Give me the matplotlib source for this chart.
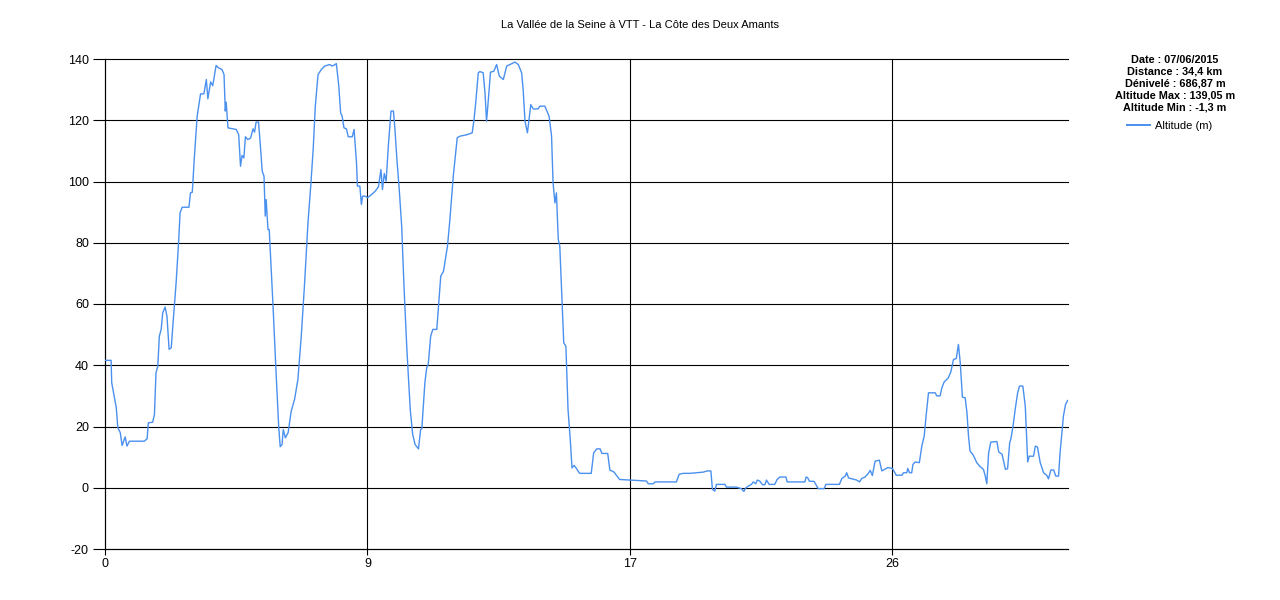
import matplotlib
matplotlib.use("Agg")
import matplotlib.pyplot as plt
from matplotlib.lines import Line2D

plt.rcParams['font.family'] = ['Liberation Sans', 'DejaVu Sans']
plt.rcParams['axes.unicode_minus'] = False

title = "La Vallée de la Seine à VTT - La Côte des Deux Amants"
stats_lines = [
    "Date : 07/06/2015",
    "Distance : 34,4 km",
    "Dénivelé : 686,87 m",
    "Altitude Max : 139,05 m",
    "Altitude Min : -1,3 m",
]
series_label = "Altitude (m)"

x_tick_values = [0, 8.6, 17.2, 25.8]
x_tick_labels = ["0", "9", "17", "26"]
y_tick_values = [-20, 0, 20, 40, 60, 80, 100, 120, 140]

distance_km = [
    0.00, 0.20, 0.22, 0.37, 0.42, 0.50, 0.56, 0.66, 0.72, 0.80, 1.29, 1.38, 1.42, 1.56, 1.62,
    1.67, 1.73, 1.78, 1.84, 1.89, 1.97, 2.03, 2.10, 2.17, 2.23, 2.33, 2.41, 2.46, 2.53, 2.75,
    2.80, 2.86, 2.93, 3.02, 3.13, 3.24, 3.32, 3.37, 3.46, 3.53, 3.64, 3.72, 3.83, 3.90, 3.94,
    3.97, 4.03, 4.30, 4.38, 4.44, 4.49, 4.55, 4.60, 4.68, 4.77, 4.85, 4.90, 4.95, 5.03, 5.10,
    5.15, 5.21, 5.25, 5.28, 5.34, 5.38, 5.50, 5.61, 5.69, 5.74, 5.80, 5.84, 5.91, 6.00, 6.10,
    6.21, 6.32, 6.43, 6.54, 6.65, 6.74, 6.82, 6.89, 6.98, 7.09, 7.20, 7.36, 7.44, 7.51, 7.58,
    7.66, 7.72, 7.77, 7.83, 7.91, 7.97, 8.10, 8.16, 8.24, 8.27, 8.35, 8.40, 8.44, 8.53, 8.60,
    8.74, 8.85, 8.96, 9.04, 9.09, 9.15, 9.21, 9.29, 9.37, 9.45, 9.50, 9.56, 9.64, 9.72, 9.80,
    9.89, 10.00, 10.08, 10.16, 10.27, 10.34, 10.38, 10.48, 10.54, 10.59, 10.67, 10.74, 10.87, 11.00, 11.09,
    11.22, 11.30, 11.41, 11.54, 11.63, 11.87, 12.03, 12.09, 12.15, 12.23, 12.28, 12.39, 12.45, 12.50, 12.56,
    12.63, 12.74, 12.83, 12.92, 13.05, 13.16, 13.27, 13.43, 13.54, 13.65, 13.70, 13.76, 13.84, 13.95, 14.03,
    14.19, 14.25, 14.41, 14.55, 14.63, 14.68, 14.74, 14.79, 14.85, 14.90, 14.95, 15.03, 15.10, 15.17, 15.25,
    15.30, 15.37, 15.43, 15.55, 15.93, 16.01, 16.11, 16.22, 16.28, 16.47, 16.54, 16.68, 16.73, 16.86, 17.20,
    17.41, 17.74, 17.80, 17.96, 18.02, 18.72, 18.81, 18.94, 19.16, 19.60, 19.74, 19.85, 19.90, 19.98, 20.03,
    20.31, 20.36, 20.69, 20.85, 20.93, 21.00, 21.07, 21.18, 21.24, 21.32, 21.37, 21.45, 21.54, 21.62, 21.67,
    21.76, 21.94, 22.02, 22.11, 22.31, 22.35, 22.93, 22.97, 23.02, 23.08, 23.23, 23.32, 23.37, 23.56, 23.62,
    24.06, 24.14, 24.25, 24.30, 24.36, 24.63, 24.72, 24.79, 24.90, 25.01, 25.07, 25.14, 25.23, 25.37, 25.45,
    25.65, 25.80, 25.92, 26.11, 26.16, 26.27, 26.30, 26.36, 26.43, 26.47, 26.54, 26.68, 26.76, 26.84, 26.90,
    26.98, 27.20, 27.25, 27.36, 27.42, 27.49, 27.63, 27.71, 27.80, 27.89, 27.96, 28.02, 28.09, 28.18, 28.24,
    28.29, 28.34, 28.45, 28.56, 28.67, 28.78, 28.84, 28.89, 28.95, 29.02, 29.22, 29.28, 29.39, 29.50, 29.57,
    29.64, 29.68, 29.75, 29.82, 29.90, 29.96, 30.07, 30.15, 30.23, 30.28, 30.42, 30.48, 30.55, 30.64, 30.75,
    30.86, 30.91, 30.99, 31.08, 31.15, 31.24, 31.29, 31.40, 31.47, 31.54,
]

altitude_m = [
    41.6, 41.6, 34.3, 26.1, 19.6, 18.0, 13.8, 16.6, 13.6, 15.2, 15.2, 16.0, 21.2, 21.4, 23.9,
    37.5, 39.7, 49.5, 51.7, 57.1, 59.0, 56.0, 45.2, 45.7, 53.9, 66.9, 80.0, 89.8, 91.6, 91.6,
    96.3, 96.5, 108.3, 121.3, 128.6, 128.6, 133.3, 127.0, 132.5, 131.3, 137.9, 137.1, 136.6, 134.9, 123.0,
    125.9, 117.5, 117.0, 115.3, 105.0, 108.5, 107.7, 114.6, 113.7, 114.2, 117.2, 116.1, 119.4, 119.4, 110.4,
    103.4, 101.7, 88.7, 94.1, 84.3, 84.3, 60.4, 36.5, 20.1, 13.4, 14.1, 19.0, 16.3, 18.0, 25.0,
    28.8, 35.4, 49.5, 66.9, 86.5, 98.5, 110.4, 124.6, 134.9, 136.6, 137.7, 138.2, 137.7, 138.0, 138.5,
    131.1, 122.4, 121.3, 117.5, 117.2, 114.6, 114.6, 117.0, 106.1, 98.5, 98.5, 92.5, 95.2, 95.2, 94.7,
    95.8, 96.8, 98.3, 103.9, 97.4, 102.6, 100.1, 112.6, 123.0, 123.0, 117.0, 107.7, 97.4, 85.4, 64.7,
    45.2, 25.6, 17.4, 14.1, 12.7, 19.0, 19.3, 34.3, 39.2, 40.3, 49.5, 51.7, 51.7, 69.1, 70.7,
    78.9, 87.6, 101.7, 114.3, 114.8, 115.3, 115.9, 120.2, 126.2, 135.5, 135.9, 135.5, 128.9, 119.7, 126.8,
    135.7, 136.0, 138.2, 134.4, 133.3, 137.7, 138.2, 139.0, 138.2, 135.5, 130.0, 119.7, 115.9, 125.1, 123.7,
    123.7, 124.6, 124.6, 121.3, 114.8, 99.6, 93.0, 96.3, 81.1, 78.9, 66.9, 47.3, 46.2, 25.6, 14.7,
    6.5, 7.3, 6.5, 4.7, 4.7, 11.4, 12.7, 12.7, 11.2, 11.2, 5.8, 5.1, 4.4, 2.7, 2.5,
    2.4, 2.2, 1.3, 1.3, 1.9, 1.9, 4.4, 4.7, 4.7, 5.1, 5.5, 5.5, -0.5, -1.1, 1.1,
    1.1, 0.2, 0.2, -0.3, -1.2, 0.0, 0.5, 1.1, 1.9, 1.3, 2.5, 2.2, 1.0, 1.0, 2.5,
    1.1, 1.1, 2.7, 3.5, 3.5, 1.9, 1.9, 3.5, 3.3, 2.1, 2.1, 0.5, -0.3, -0.3, 1.1,
    1.1, 3.0, 3.8, 4.9, 3.2, 2.5, 1.9, 3.0, 3.5, 4.7, 5.7, 4.0, 8.7, 9.0, 5.5,
    6.6, 6.3, 4.1, 4.1, 4.9, 4.9, 6.3, 4.9, 4.9, 7.6, 8.4, 8.2, 13.6, 16.9, 23.4,
    31.0, 31.0, 30.0, 30.0, 32.7, 34.5, 35.9, 37.8, 41.9, 42.2, 46.8, 40.8, 29.6, 29.4, 24.5,
    16.9, 12.0, 10.6, 8.2, 6.9, 6.0, 3.8, 1.3, 11.4, 14.9, 15.1, 11.7, 10.9, 6.0, 6.2,
    14.7, 16.0, 20.2, 25.6, 31.0, 33.2, 33.2, 26.7, 8.4, 10.3, 10.3, 13.6, 13.3, 8.2, 4.9,
    4.0, 2.9, 5.8, 5.8, 3.8, 3.8, 11.4, 23.4, 27.2, 28.5,
]

fig = plt.figure(figsize=(12.8, 6.0), dpi=100)
W, H = 1280, 600
ax = fig.add_axes([105 / W, 1 - 549 / H, (1068 - 105) / W, (549 - 59) / H])

line_color = "#4a90ee"
ax.plot(distance_km, altitude_m, color=line_color, lw=1.0, label=series_label, zorder=3)

ax.set_xlim(0, 31.55)
ax.set_ylim(-20, 140)
ax.set_xticks(x_tick_values)
ax.set_xticklabels(x_tick_labels)
ax.set_yticks(y_tick_values)
ax.grid(True, color="black", linewidth=0.8, zorder=1)
ax.set_axisbelow(True)
for s in ["top", "right"]:
    ax.spines[s].set_visible(False)
for s in ["left", "bottom"]:
    ax.spines[s].set_color("black")
    ax.spines[s].set_linewidth(0.8)
ax.tick_params(axis="y", direction="out", length=8.6, width=0.8, pad=3, labelsize=9, colors="black")
ax.tick_params(axis="x", direction="out", length=4.3, width=0.8, pad=2, labelsize=9, colors="black")
for gl in ax.get_xgridlines() + ax.get_ygridlines():
    gl.set_clip_on(False)

fig.text(640 / W, 1 - 25 / H, title, ha="center", va="center", fontsize=8, color="black")

stat_y = [60, 72, 84, 96, 108]
for txt, yy in zip(stats_lines, stat_y):
    fig.text(1175 / W, 1 - yy / H, txt, ha="center", va="center", fontsize=7.8,
             fontweight="bold", color="black")

handle = Line2D([], [], color=line_color, lw=1.4)
fig.legend([handle], [series_label], loc="center left",
           bbox_to_anchor=(1127 / W, 1 - 126 / H), frameon=False, fontsize=8,
           handlelength=2.1, handletextpad=0.4, borderpad=0, borderaxespad=0)

fig.savefig("out.png", dpi=100)
